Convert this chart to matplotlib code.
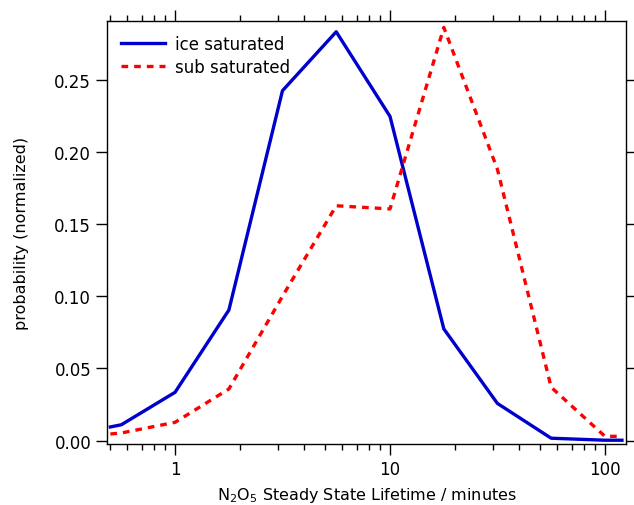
import numpy as np
import matplotlib.pyplot as plt
from matplotlib.ticker import LogLocator, NullFormatter, FixedLocator

# lifetime bins (minutes), half-decade spacing
lifetime = [0.5, 0.562, 1.0, 1.78, 3.16, 5.62, 10.0, 17.8, 31.6, 56.2, 100.0, 120.0]
ice_sat = [0.0095, 0.011, 0.0335, 0.0905, 0.2424, 0.2832, 0.2246, 0.0774, 0.0258, 0.0017, 0.0003, 0.0003]
sub_sat = [0.0046, 0.0053, 0.0127, 0.0358, 0.1000, 0.1627, 0.1605, 0.2862, 0.1880, 0.0370, 0.0030, 0.0030]

plt.rcParams['font.family'] = ['DejaVu Sans']

fig = plt.figure(figsize=(6.34, 5.06), dpi=100)
ax = fig.add_axes([0.169, 0.1206, 0.818, 0.836])

ax.plot(lifetime, ice_sat, color='#0000cc', lw=2.4, label='ice saturated')
ax.plot(lifetime, sub_sat, color='#ff0000', lw=2.4, ls=(0, (2.0, 1.8)), label='sub saturated')

ax.set_xscale('log')
ax.set_xlim(0.483, 125)
ax.set_ylim(-0.0023, 0.2907)

ax.xaxis.set_major_locator(FixedLocator([1, 10, 100]))
ax.xaxis.set_major_formatter(plt.FuncFormatter(lambda v, p: '%g' % v))
ax.xaxis.set_minor_locator(LogLocator(base=10, subs=np.arange(2, 10)))
ax.xaxis.set_minor_formatter(NullFormatter())
ax.set_yticks(np.arange(0, 0.26, 0.05))
ax.yaxis.set_major_formatter(plt.FuncFormatter(lambda v, p: '%.2f' % v))

ax.tick_params(which='both', direction='out', top=True, right=True, labelsize=12, width=1)
ax.tick_params(which='major', length=8)
ax.tick_params(which='minor', length=4.5)
for s in ax.spines.values():
    s.set_linewidth(1)

ax.set_xlabel('N$_2$O$_5$ Steady State Lifetime / minutes', fontsize=11.5, labelpad=5)
ax.set_ylabel('probability (normalized)', fontsize=11.5, labelpad=18)

ax.legend(loc='upper left', frameon=False, fontsize=12, handlelength=2.6,
          handletextpad=0.6, labelspacing=0.3, borderaxespad=0.45)

fig.savefig('out.png', dpi=100)
